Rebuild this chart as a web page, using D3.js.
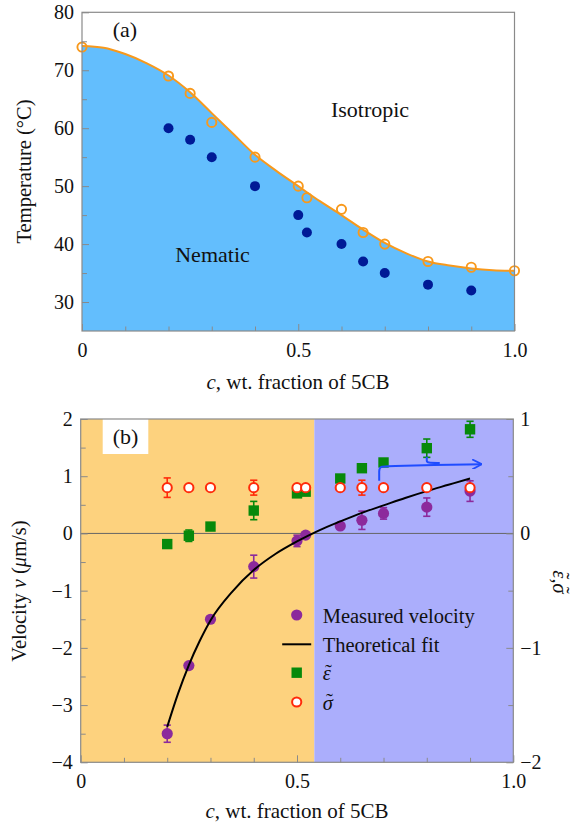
<!DOCTYPE html>
<html>
<head>
<meta charset="utf-8">
<script src="https://cdn.jsdelivr.net/npm/d3@7"></script>
<style>
  html, body { margin: 0; padding: 0; background: #fff; }
  svg text { font-family: "Liberation Serif", "Times New Roman", serif; fill: #111; }
</style>
</head>
<body>
<svg id="chart" width="572" height="830"></svg>
<script>
// ---------- Panel (a): phase diagram ----------
// Nematic–isotropic transition temperatures (open circles)
const cClear = [0, 0.2, 0.25, 0.3, 0.4, 0.5, 0.52, 0.6, 0.65, 0.7, 0.8, 0.9, 1.0];
const tClear = [74, 69, 66, 61, 55, 50, 48, 46, 42, 40, 37, 36, 35.4];
// Lower temperatures (filled dots)
const cLow = [0.2, 0.25, 0.3, 0.4, 0.5, 0.52, 0.6, 0.65, 0.7, 0.8, 0.9];
const tLow = [60, 58, 55, 50, 45, 42, 40, 37, 35, 33, 32];
// Smooth phase boundary
const cBound = [0, 0.05, 0.1, 0.15, 0.2, 0.25, 0.3, 0.35, 0.4, 0.45, 0.5, 0.55, 0.6, 0.65, 0.7, 0.75, 0.8, 0.85, 0.9, 0.95, 1.0];
const tBound = [74.2, 73.9, 72.8, 71.2, 69.1, 66.2, 62.6, 59.0, 55.4, 52.6, 50.0, 47.4, 45.0, 42.5, 40.2, 38.4, 37.0, 36.3, 35.8, 35.5, 35.4];
const tempTicks = [30, 40, 50, 60, 70, 80];

// ---------- Panel (b): velocity and anisotropies ----------
const cVel = [0.2, 0.25, 0.3, 0.4, 0.5, 0.52, 0.6, 0.65, 0.7, 0.8, 0.9];
const vel = [-3.5, -2.31, -1.5, -0.58, -0.13, -0.03, 0.13, 0.23, 0.35, 0.46, 0.74];
const velErr = [0.15, 0, 0, 0.2, 0.1, 0, 0, 0.16, 0.1, 0.16, 0.18];
const epsT = [-0.093, -0.02, 0.06, 0.2, 0.35, 0.365, 0.48, 0.57, 0.62, 0.745, 0.91];
const epsErr = [0, 0.05, 0, 0.08, 0, 0, 0, 0, 0.02, 0.08, 0.07];
const sigT = [0.4, 0.4, 0.4, 0.4, 0.4, 0.4, 0.4, 0.4, 0.4, 0.4, 0.4];
const sigErr = [0.085, 0, 0, 0.065, 0.02, 0, 0, 0.065, 0, 0, 0];
// Theoretical fit of the velocity
const cFit = [0.2, 0.225, 0.25, 0.275, 0.3, 0.35, 0.4, 0.45, 0.5, 0.55, 0.6, 0.65, 0.7, 0.75, 0.8, 0.85, 0.9];
const vFit = [-3.38, -2.8, -2.3, -1.88, -1.52, -1.02, -0.64, -0.36, -0.14, 0.05, 0.21, 0.36, 0.49, 0.62, 0.74, 0.85, 0.96];
const cSplit = 0.54;               // boundary between the two shaded regimes
const velTicks = [-4, -3, -2, -1, 0, 1, 2];
const rightTicks = [-2, -1, 0, 1];
const cTicks = [0, 0.5, 1.0];
// Blue arrow (c, v) and the branch joining it from the c = 0.8 point
const arrowPts = [[0.690, 0.92], [0.690, 1.10], [0.690, 1.175], [0.72, 1.18], [0.927, 1.21]];
const branchPts = [[0.8, 1.34], [0.8, 1.27], [0.8, 1.235], [0.83, 1.232]];

const legendItems = ["Measured velocity", "Theoretical fit"];
const EPS = "ε", SIG = "σ";

const svg = d3.select("#chart");
const FONT = 20;
const AXC = "#8a8a8a";

// Measures a string in the chart font.
function textWidth(str, size, italic) {
  const t = svg.append("text").attr("font-size", size).attr("font-style", italic ? "italic" : null).text(str);
  const w = t.node().getComputedTextLength();
  t.remove();
  return w;
}

// One text element holding a run of glyphs, with a tilde tspan placed over flagged ones.
function tildeRun(parent, x, y, parts, size, anchor) {
  const tw = textWidth("\u02DC", size, false);
  let total = 0;
  const widths = parts.map(p => { const w = textWidth(p.t, size, p.italic); total += w; return w; });
  const x0 = anchor === "middle" ? x - total / 2 : x;
  const txt = parent.append("text").attr("font-size", size);
  let cur = x0;
  parts.forEach((p, i) => {
    txt.append("tspan").attr("x", cur).attr("y", y)
      .attr("font-style", p.italic ? "italic" : "normal").text(p.t);
    if (p.tilde) {
      txt.append("tspan").attr("x", cur + widths[i] / 2 + size * 0.08 - tw / 2).attr("y", y - size * 0.08)
        .attr("font-style", "normal").text("\u02DC");
    }
    cur += widths[i];
  });
  return txt;
}

// ====================== Panel (a) ======================
const xA = d3.scaleLinear([0, 1], [82, 514.5]);
const yA = d3.scaleLinear([25, 80], [331, 12.3]);
const gA = svg.append("g");

const bound = cBound.map((c, i) => [c, tBound[i]]);
gA.append("path")
  .datum(bound)
  .attr("fill", "#63BEFD")
  .attr("d", d3.area().x(d => xA(d[0])).y0(yA(25)).y1(d => yA(d[1])).curve(d3.curveMonotoneX));
gA.append("path")
  .datum(bound)
  .attr("fill", "none").attr("stroke", "#F8991C").attr("stroke-width", 2)
  .attr("d", d3.line().x(d => xA(d[0])).y(d => yA(d[1])).curve(d3.curveMonotoneX));

gA.selectAll("circle.low").data(cLow.map((c, i) => [c, tLow[i]])).join("circle")
  .attr("class", "low")
  .attr("cx", d => xA(d[0])).attr("cy", d => yA(d[1])).attr("r", 5)
  .attr("fill", "#001A96");
gA.selectAll("circle.clear").data(cClear.map((c, i) => [c, tClear[i]])).join("circle")
  .attr("class", "clear")
  .attr("cx", d => xA(d[0])).attr("cy", d => yA(d[1])).attr("r", 4.6)
  .attr("fill", "none").attr("stroke", "#F8991C").attr("stroke-width", 1.9);

function styleAxis(g) {
  g.select(".domain").remove();
  g.selectAll(".tick line").attr("stroke", AXC).attr("stroke-width", 1);
  g.selectAll(".tick text").attr("font-size", FONT).attr("fill", "#111")
    .style("font-family", '"Liberation Serif", "Times New Roman", serif');
}
const cFmt = d => (d === 1 ? "1.0" : String(d));
const vFmt = d => (d < 0 ? "\u2212" + Math.abs(d) : String(d));

// frame
gA.append("rect").attr("x", xA(0)).attr("y", yA(80)).attr("width", xA(1) - xA(0)).attr("height", yA(25) - yA(80))
  .attr("fill", "none").attr("stroke", AXC).attr("stroke-width", 1.2);

// y axis (a)
gA.append("g").attr("transform", `translate(${xA(0)},0)`)
  .call(d3.axisLeft(yA).tickValues(d3.range(35, 80, 10)).tickSize(-5).tickFormat(""))
  .call(styleAxis);
gA.append("g").attr("transform", `translate(${xA(0)},0)`)
  .call(d3.axisLeft(yA).tickValues(tempTicks).tickSize(-7).tickPadding(8).tickFormat(d3.format("d")))
  .call(styleAxis);
// x axis (a)
gA.append("g").attr("transform", `translate(0,${yA(25)})`)
  .call(d3.axisBottom(xA).tickValues([1, 2, 3, 4, 6, 7, 8, 9].map(i => i / 10)).tickSize(-4.5).tickFormat(""))
  .call(styleAxis);
gA.append("g").attr("transform", `translate(0,${yA(25)})`)
  .call(d3.axisBottom(xA).tickValues(cTicks).tickSize(-7).tickPadding(12).tickFormat(cFmt))
  .call(styleAxis);

gA.append("text").attr("x", 125).attr("y", 37).attr("text-anchor", "middle").attr("font-size", 22).text("(a)");
gA.append("text").attr("x", 370).attr("y", 117).attr("text-anchor", "middle").attr("font-size", 22).text("Isotropic");
gA.append("text").attr("x", 212.5).attr("y", 261.5).attr("text-anchor", "middle").attr("font-size", 22).text("Nematic");
gA.append("text").attr("transform", "translate(31,171.5) rotate(-90)").attr("text-anchor", "middle")
  .attr("font-size", 20.5).text("Temperature (°C)");
const tA = gA.append("text").attr("x", 298).attr("y", 389).attr("text-anchor", "middle").attr("font-size", 21);
tA.append("tspan").attr("font-style", "italic").text("c");
tA.append("tspan").text(", wt. fraction of 5CB");

// ====================== Panel (b) ======================
const xB = d3.scaleLinear([0, 1], [80.7, 513.3]);
const yB = d3.scaleLinear([-4, 2], [762.3, 419]);
const yR = d3.scaleLinear([-2, 1], [762.3, 419]);
const gB = svg.append("g");

gB.append("rect").attr("x", xB(0)).attr("y", yB(2)).attr("width", xB(cSplit) - xB(0)).attr("height", yB(-4) - yB(2))
  .attr("fill", "#FDD27E");
gB.append("rect").attr("x", xB(cSplit)).attr("y", yB(2)).attr("width", xB(1) - xB(cSplit)).attr("height", yB(-4) - yB(2))
  .attr("fill", "#ABAEFC");
gB.append("rect").attr("x", 102.7).attr("y", yB(2)).attr("width", 45.6).attr("height", 35).attr("fill", "#fff");
gB.append("text").attr("x", 125.5).attr("y", 444).attr("text-anchor", "middle").attr("font-size", 22).text("(b)");

gB.append("line").attr("x1", xB(0)).attr("x2", xB(1)).attr("y1", yB(0)).attr("y2", yB(0))
  .attr("stroke", "#666").attr("stroke-width", 1);

function errBars(g, pts, yScale, color) {
  const e = pts.filter(d => d[2] > 0);
  g.selectAll(null).data(e).join("line")
    .attr("x1", d => xB(d[0])).attr("x2", d => xB(d[0]))
    .attr("y1", d => yScale(d[1] - d[2])).attr("y2", d => yScale(d[1] + d[2]))
    .attr("stroke", color).attr("stroke-width", 1.6);
  [-1, 1].forEach(s => {
    g.selectAll(null).data(e).join("line")
      .attr("x1", d => xB(d[0]) - 3.6).attr("x2", d => xB(d[0]) + 3.6)
      .attr("y1", d => yScale(d[1] + s * d[2])).attr("y2", d => yScale(d[1] + s * d[2]))
      .attr("stroke", color).attr("stroke-width", 1.6);
  });
}

const GREEN = "#07890B", PURPLE = "#8C2A9C", RED = "#FF2A0A", BLUE = "#1F4CFF";

// epsilon (right axis)
const epsPts = cVel.map((c, i) => [c, epsT[i], epsErr[i]]);
errBars(gB, epsPts, yR, GREEN);
gB.selectAll("rect.eps").data(epsPts).join("rect").attr("class", "eps")
  .attr("x", d => xB(d[0]) - 5.2).attr("y", d => yR(d[1]) - 5.2).attr("width", 10.4).attr("height", 10.4)
  .attr("fill", GREEN);

// measured velocity (left axis)
const velPts = cVel.map((c, i) => [c, vel[i], velErr[i]]);
errBars(gB, velPts, yB, PURPLE);
gB.selectAll("circle.vel").data(velPts).join("circle").attr("class", "vel")
  .attr("cx", d => xB(d[0])).attr("cy", d => yB(d[1])).attr("r", 5.6).attr("fill", PURPLE);

// theoretical fit
gB.append("path").datum(cFit.map((c, i) => [c, vFit[i]]))
  .attr("fill", "none").attr("stroke", "#000").attr("stroke-width", 2)
  .attr("d", d3.line().x(d => xB(d[0])).y(d => yB(d[1])).curve(d3.curveMonotoneX));

// sigma (right axis)
const sigPts = cVel.map((c, i) => [c, sigT[i], sigErr[i]]);
errBars(gB, sigPts, yR, RED);
gB.selectAll("circle.sig").data(sigPts).join("circle").attr("class", "sig")
  .attr("cx", d => xB(d[0])).attr("cy", d => yR(d[1])).attr("r", 4.6)
  .attr("fill", "#fff").attr("stroke", RED).attr("stroke-width", 2);

// arrow
svg.append("defs").append("marker").attr("id", "head")
  .attr("viewBox", "0 0 10 10").attr("refX", 9.5).attr("refY", 5)
  .attr("markerWidth", 10).attr("markerHeight", 10).attr("markerUnits", "userSpaceOnUse")
  .attr("orient", "auto")
  .append("path").attr("d", "M0,0 L9.5,5 L0,10").attr("fill", "none").attr("stroke", BLUE).attr("stroke-width", 1.8);
const arrowLine = d3.line().x(d => xB(d[0])).y(d => yB(d[1])).curve(d3.curveBasis);
gB.append("path").datum(arrowPts).attr("d", arrowLine)
  .attr("fill", "none").attr("stroke", BLUE).attr("stroke-width", 2).attr("marker-end", "url(#head)");
gB.append("path").datum(branchPts).attr("d", arrowLine)
  .attr("fill", "none").attr("stroke", BLUE).attr("stroke-width", 2);

// frame and axes (b)
gB.append("rect").attr("x", xB(0)).attr("y", yB(2)).attr("width", xB(1) - xB(0)).attr("height", yB(-4) - yB(2))
  .attr("fill", "none").attr("stroke", AXC).attr("stroke-width", 1.2);
gB.append("g").attr("transform", `translate(${xB(0)},0)`)
  .call(d3.axisLeft(yB).tickValues(d3.range(-3.5, 2, 1)).tickSize(-5).tickFormat(""))
  .call(styleAxis);
gB.append("g").attr("transform", `translate(${xB(0)},0)`)
  .call(d3.axisLeft(yB).tickValues(velTicks).tickSize(-7).tickPadding(8).tickFormat(vFmt))
  .call(styleAxis);
gB.append("g").attr("transform", `translate(${xB(1)},0)`)
  .call(d3.axisRight(yR).tickValues([-1.5, -0.5, 0.5]).tickSize(-5).tickFormat(""))
  .call(styleAxis);
gB.append("g").attr("transform", `translate(${xB(1)},0)`)
  .call(d3.axisRight(yR).tickValues(rightTicks).tickSize(-7).tickPadding(7).tickFormat(vFmt))
  .call(styleAxis);
gB.append("g").attr("transform", `translate(0,${yB(-4)})`)
  .call(d3.axisBottom(xB).tickValues([1, 2, 3, 4, 6, 7, 8, 9].map(i => i / 10)).tickSize(-4.5).tickFormat(""))
  .call(styleAxis);
gB.append("g").attr("transform", `translate(0,${yB(-4)})`)
  .call(d3.axisBottom(xB).tickValues(cTicks).tickSize(-7).tickPadding(12).tickFormat(cFmt))
  .call(styleAxis);

// axis titles (b)
const tB = gB.append("text").attr("x", 297).attr("y", 818).attr("text-anchor", "middle").attr("font-size", 21);
tB.append("tspan").attr("font-style", "italic").text("c");
tB.append("tspan").text(", wt. fraction of 5CB");
const lv = gB.append("text").attr("transform", "translate(26,591) rotate(-90)").attr("text-anchor", "middle").attr("font-size", 20.5);
lv.append("tspan").text("Velocity ");
lv.append("tspan").attr("font-style", "italic").text("v");
lv.append("tspan").text(" (");
lv.append("tspan").attr("font-style", "italic").text("μ");
lv.append("tspan").text("m/s)");
const rl = gB.append("g").attr("transform", "translate(553,582) rotate(90)");
tildeRun(rl, 0, 0, [{ t: EPS, italic: true, tilde: true }, { t: ", " }, { t: SIG, italic: true, tilde: true }], 20.5, "middle");

// legend
const lx = 296.7, tx = 322.7;
const legY = [615, 644.3, 672.7, 702];
gB.append("circle").attr("cx", lx).attr("cy", legY[0]).attr("r", 5.6).attr("fill", PURPLE);
gB.append("line").attr("x1", lx - 14.5).attr("x2", lx + 14.5).attr("y1", legY[1]).attr("y2", legY[1]).attr("stroke", "#000").attr("stroke-width", 2);
gB.append("rect").attr("x", lx - 5.2).attr("y", legY[2] - 5.2).attr("width", 10.4).attr("height", 10.4).attr("fill", GREEN);
gB.append("circle").attr("cx", lx).attr("cy", legY[3]).attr("r", 4.6).attr("fill", "#fff").attr("stroke", RED).attr("stroke-width", 2);
legendItems.forEach((t, i) => {
  gB.append("text").attr("x", tx).attr("y", legY[i] + 7.5).attr("font-size", 20.5).text(t);
});
tildeRun(gB, tx, legY[2] + 7.5, [{ t: EPS, italic: true, tilde: true }], 20.5, "start");
tildeRun(gB, tx, legY[3] + 7.5, [{ t: SIG, italic: true, tilde: true }], 20.5, "start");
</script>
</body>
</html>
